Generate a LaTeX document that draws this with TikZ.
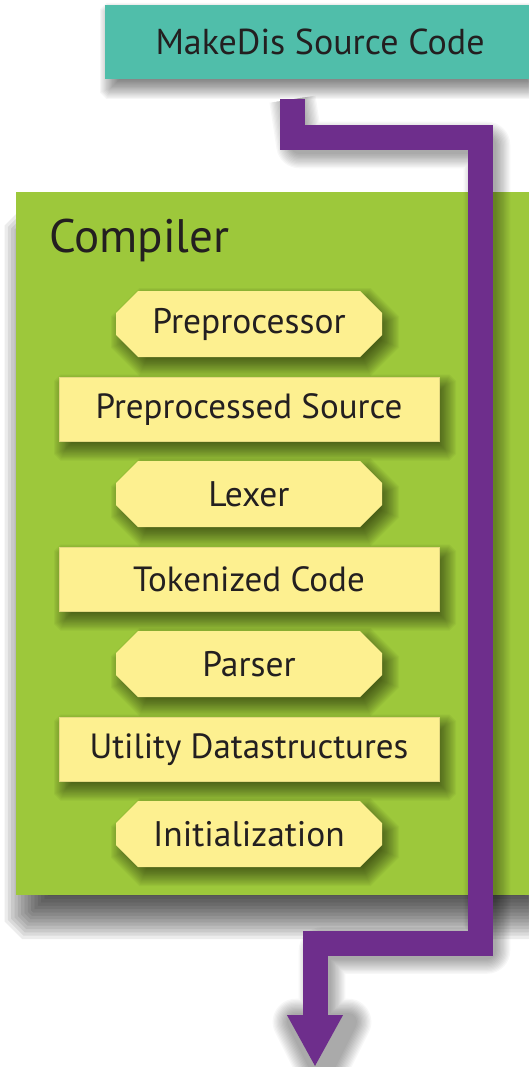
\documentclass[tikz,border=0pt]{standalone}
\usepackage{fontspec}
\setmainfont{PT Sans}
\usetikzlibrary{arrows.meta,calc}
\definecolor{srcteal}{RGB}{80,190,170}
\definecolor{compgreen}{RGB}{157,200,59}
\definecolor{boxyellow}{RGB}{253,240,144}
\definecolor{flowpurple}{RGB}{110,46,140}
\definecolor{txt}{RGB}{35,31,32}
% octagon centred on a coordinate: #1 style, #2 coordinate, #3 half width, #4 half height, #5 chamfer
\newcommand\octfill[5]{%
  \fill[#1, shift={(#2)}]
    (-#3,-#4+#5) -- (-#3+#5,-#4) -- (#3-#5,-#4) -- (#3,-#4+#5)
    -- (#3,#4-#5) -- (#3-#5,#4) -- (-#3+#5,#4) -- (-#3,#4-#5) -- cycle;}
% soft (blurred) shadow: #1 coordinate, #2 half width, #3 half height, #4 chamfer,
% #5 dx, #6 dy, #7 blur radius, #8 layer opacity
\newcommand\softshade[8]{%
  \foreach \shK in {1,...,18}{%
    \pgfmathsetmacro\shE{#7*(2*\shK/18-1)}%
    \pgfmathsetmacro\shW{#2+\shE}%
    \pgfmathsetmacro\shH{#3+\shE}%
    \pgfmathsetmacro\shC{max(#4+0.586*\shE,0)}%
    \coordinate (shc) at ($(#1)+(#5,#6)$);
    \octfill{black, opacity=#8}{shc}{\shW}{\shH}{\shC}
  }}
\begin{document}
\begin{tikzpicture}[x=1pt,y=-1pt,
  every node/.style={text=txt, inner sep=0pt},
  srcbox/.style={fill=srcteal, minimum width=430pt, minimum height=74pt,
    font=\fontsize{36}{40}\selectfont},
  compbox/.style={fill=compgreen, minimum width=529pt, minimum height=703pt},
  titlelbl/.style={font=\fontsize{47}{52}\selectfont, anchor=base west},
  stagebox/.style={rectangle, minimum width=266pt, minimum height=66pt,
    font=\fontsize{35.5}{40}\selectfont},
  stagefill/.style={fill=boxyellow},
  databox/.style={rectangle, fill=boxyellow, draw=boxyellow!90!black, line width=0.6pt,
    minimum width=380pt, minimum height=64pt,
    font=\fontsize{35}{40}\selectfont},
  flow/.style={draw=flowpurple, line width=25pt, line join=miter, line cap=butt,
    -{Triangle[length=52pt,width=52pt]}},
]
\useasboundingbox (0,0) rectangle (528,1067);
\fill[white] (0,0) rectangle (528,1067);

\coordinate (srcpos) at (320,42);
\softshade{srcpos}{212}{37}{0}{3}{9}{11}{0.035}
\node[srcbox] (src) at (srcpos) {MakeDis Source Code};

\coordinate (comppos) at (280.5,543.5);
\softshade{comppos}{252}{335.5}{0}{6}{30}{30}{0.075}
\node[compbox] (comp) at (comppos) {};
\node[titlelbl] (complbl) at (49,252) {Compiler};

\foreach \nm/\yy in {pre/324, lex/494, par/664, init/834}{
  \coordinate (\nm pos) at (249,\yy);
  \softshade{\nm pos}{133}{33}{22}{6}{8}{11}{0.04}
  \octfill{stagefill}{\nm pos}{133}{33}{22}
}
\foreach \nm/\yy in {pres/409.5, tok/579.5, util/749.5}{
  \coordinate (\nm pos) at (249,\yy);
  \softshade{\nm pos}{190}{32}{0}{6}{8}{11}{0.04}
}

\node[stagebox] (pre)  at (prepos)  {Preprocessor};
\node[databox]  (pres) at (prespos) {Preprocessed Source};
\node[stagebox] (lex)  at (lexpos)  {Lexer};
\node[databox]  (tok)  at (tokpos)  {Tokenized Code};
\node[stagebox] (par)  at (parpos)  {Parser};
\node[databox]  (util) at (utilpos) {Utility Datastructures};
\node[stagebox] (init) at (initpos) {Initialization};

\coordinate (fstart) at ($(src.south)+(-27.5,20)$);
\coordinate (fend) at (315,1067);

% soft shadow of the flow arrow
\foreach \k in {0,...,11}{
  \pgfmathsetmacro\lw{18+2.6*\k}
  \draw[black, opacity=0.03, line width=\lw pt, line join=round, shift={(7,7)}]
    (fstart) -- (292.5,138) -- (480,138) -- (480,943.5) -- (315,943.5) -- (315,1052)
    (289,1015) -- (341,1015) -- (315,1067) -- cycle;
}

\draw[flow] (fstart) |- (480,138) |- (315,943.5) -- (fend);
\end{tikzpicture}
\end{document}
